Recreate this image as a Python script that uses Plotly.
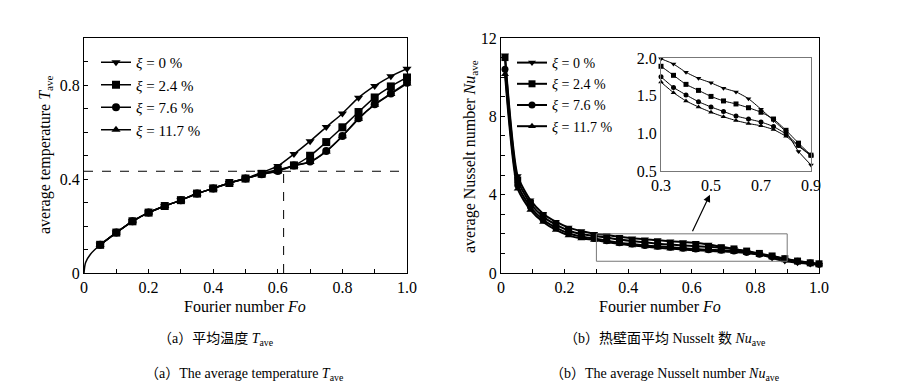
import plotly.graph_objects as go

# ---------------- data ----------------
series_labels = ["<i>ξ</i> = 0 %", "<i>ξ</i> = 2.4 %", "<i>ξ</i> = 7.6 %", "<i>ξ</i> = 11.7 %"]

# (a) average temperature
Fo_T_start = [0, 0.005, 0.02, 0.05]          # common initial rise (no markers)
T_start = [0, 0.045, 0.080, 0.120]
Fo_T = [0.05, 0.10, 0.15, 0.20, 0.25, 0.30, 0.35, 0.40, 0.45, 0.50,
        0.55, 0.60, 0.65, 0.70, 0.75, 0.80, 0.85, 0.90, 0.95, 1.00]
T_common = [0.120, 0.172, 0.220, 0.257, 0.285, 0.310, 0.338, 0.360, 0.383, 0.402]
T_xi0 = T_common + [0.428, 0.455, 0.506, 0.561, 0.621, 0.679, 0.746, 0.796, 0.837, 0.869]
T_xi24 = T_common + [0.422, 0.440, 0.458, 0.499, 0.557, 0.620, 0.685, 0.747, 0.794, 0.832]
T_xi76 = T_common + [0.420, 0.434, 0.457, 0.474, 0.519, 0.583, 0.658, 0.718, 0.764, 0.810]
T_xi117 = T_common + [0.420, 0.433, 0.456, 0.472, 0.517, 0.582, 0.656, 0.716, 0.762, 0.806]
T_cross = 0.433
Fo_cross = 0.618

# (b) average Nusselt number
Fo_Nu = [0.0125, 0.0525, 0.0925, 0.1325, 0.1725, 0.2125, 0.2525, 0.2925, 0.3325, 0.3725,
         0.4125, 0.4525, 0.4925, 0.5325, 0.5725, 0.6125, 0.6525, 0.6925, 0.7325, 0.7725,
         0.8125, 0.8525, 0.8925, 0.9325, 0.9725, 1.0]
Nu_xi0 = [11.12, 4.95, 3.72, 3.03, 2.62, 2.32, 2.14, 2.01, 1.94, 1.85, 1.78, 1.72, 1.68,
          1.62, 1.58, 1.54, 1.46, 1.35, 1.23, 1.09, 0.97, 0.77, 0.61, 0.52, 0.46, 0.42]
Nu_xi24 = [11.0, 4.75, 3.55, 2.88, 2.47, 2.17, 1.99, 1.90, 1.81, 1.71, 1.63, 1.57, 1.50,
           1.45, 1.41, 1.37, 1.34, 1.29, 1.23, 1.12, 1.00, 0.87, 0.73, 0.61, 0.52, 0.47]
Nu_xi76 = [10.4, 4.50, 3.38, 2.72, 2.32, 2.03, 1.86, 1.76, 1.65, 1.55, 1.48, 1.41, 1.36,
           1.31, 1.26, 1.22, 1.19, 1.16, 1.12, 1.05, 0.96, 0.84, 0.72, 0.60, 0.51, 0.45]
Nu_xi117 = [10.15, 4.30, 3.22, 2.60, 2.20, 1.92, 1.76, 1.69, 1.58, 1.48, 1.41, 1.35, 1.29,
            1.24, 1.20, 1.16, 1.13, 1.10, 1.07, 1.02, 0.94, 0.83, 0.71, 0.59, 0.50, 0.44]

# inset (zoom 0.3 - 0.9)
Fo_in = [0.30, 0.35, 0.40, 0.45, 0.50, 0.55, 0.60, 0.65, 0.70, 0.75, 0.80, 0.85, 0.90]
In_xi0 = [1.99, 1.92, 1.81, 1.73, 1.67, 1.60, 1.55, 1.46, 1.32, 1.17, 1.02, 0.76, 0.58]
In_xi24 = [1.89, 1.77, 1.65, 1.57, 1.49, 1.43, 1.39, 1.34, 1.28, 1.19, 1.04, 0.87, 0.71]
In_xi76 = [1.75, 1.61, 1.51, 1.42, 1.35, 1.29, 1.23, 1.19, 1.15, 1.09, 0.99, 0.84, 0.71]
In_xi117 = [1.68, 1.54, 1.43, 1.35, 1.28, 1.22, 1.17, 1.13, 1.10, 1.05, 0.96, 0.83, 0.70]

zoom_box = [0.3, 0.9, 0.6, 2.0]          # x0, x1, y0, y1
arrow_from = [0.6, 2.05]
arrow_to = [0.657, 4.0]

x_ticks_main = [0, 0.2, 0.4, 0.6, 0.8, 1.0]
x_ticklabels_main = ["0", "0.2", "0.4", "0.6", "0.8", "1.0"]
yT_ticks = [0, 0.4, 0.8]
yT_ticklabels = ["0", "0.4", "0.8"]
yNu_ticks = [0, 4, 8, 12]
yNu_ticklabels = ["0", "4", "8", "12"]
xin_ticks = [0.3, 0.5, 0.7, 0.9]
xin_ticklabels = ["0.3", "0.5", "0.7", "0.9"]
yin_ticks = [0.5, 1.0, 1.5, 2.0]
yin_ticklabels = ["0.5", "1.0", "1.5", "2.0"]

# ---------------- figure ----------------
W, H = 898, 389
SERIF = "Liberation Serif"
CJK = "Liberation Serif, Noto Sans CJK SC"
symbols = ["triangle-down", "square", "circle", "triangle-up"]

fig = go.Figure()

fig.add_trace(go.Scatter(
    x=Fo_T_start, y=T_start, mode="lines", showlegend=False,
    line=dict(color="black", width=1.5, shape="spline", smoothing=0.8),
    xaxis="x", yaxis="y", cliponaxis=False))

T_sets = [T_xi0, T_xi24, T_xi76, T_xi117]
for lab, ys, sym in zip(series_labels, T_sets, symbols):
    fig.add_trace(go.Scatter(
        x=Fo_T, y=ys, mode="lines+markers", name=lab,
        line=dict(color="black", width=1.5, shape="spline", smoothing=0.6),
        marker=dict(symbol=sym, size=8, color="black", line=dict(width=0)),
        xaxis="x", yaxis="y", legend="legend", cliponaxis=False))

Nu_sets = [Nu_xi0, Nu_xi24, Nu_xi76, Nu_xi117]
for lab, ys, sym in zip(series_labels, Nu_sets, symbols):
    fig.add_trace(go.Scatter(
        x=Fo_Nu, y=ys, mode="lines+markers", name=lab,
        line=dict(color="black", width=2, shape="spline", smoothing=0.6),
        marker=dict(symbol=sym, size=7, color="black", line=dict(width=0)),
        xaxis="x2", yaxis="y2", legend="legend2", cliponaxis=False))

In_sets = [In_xi0, In_xi24, In_xi76, In_xi117]
for lab, ys, sym in zip(series_labels, In_sets, symbols):
    fig.add_trace(go.Scatter(
        x=Fo_in, y=ys, mode="lines+markers", name=lab, showlegend=False,
        line=dict(color="black", width=1, shape="spline", smoothing=0.5),
        marker=dict(symbol=sym, size=5, color="black", line=dict(width=0)),
        xaxis="x3", yaxis="y3", cliponaxis=False))

def px_x(p):
    return p / W

def px_y(p):
    return 1 - p / H

tickfont = dict(family=SERIF, size=16, color="black")
axis_common = dict(showgrid=False, zeroline=False, showline=True, linecolor="black",
                   linewidth=1, mirror=True, ticks="inside", ticklen=4, tickcolor="black",
                   tickfont=tickfont, automargin=False)

fig.update_layout(
    width=W, height=H, margin=dict(l=0, r=0, t=0, b=0, autoexpand=False),
    paper_bgcolor="white", plot_bgcolor="white",
    font=dict(family=SERIF, color="black"),
    xaxis=dict(domain=[px_x(84), px_x(407)], range=[0, 1.0], anchor="y",
               tickvals=x_ticks_main, ticktext=x_ticklabels_main,
               minor=dict(dtick=0.1, ticks="inside", ticklen=4, tickcolor="black"),
               **axis_common),
    yaxis=dict(domain=[px_y(273), px_y(38)], range=[0, 1.0], anchor="x",
               tickvals=yT_ticks, ticktext=yT_ticklabels,
               minor=dict(dtick=0.1, ticks="inside", ticklen=4, tickcolor="black"),
               **axis_common),
    xaxis2=dict(domain=[px_x(501), px_x(819)], range=[0, 1.0], anchor="y2",
                tickvals=x_ticks_main, ticktext=x_ticklabels_main,
                minor=dict(dtick=0.1, ticks="inside", ticklen=4, tickcolor="black"),
                **axis_common),
    yaxis2=dict(domain=[px_y(273), px_y(38)], range=[0, 12], anchor="x2",
                tickvals=yNu_ticks, ticktext=yNu_ticklabels,
                minor=dict(dtick=1, ticks="inside", ticklen=4, tickcolor="black"),
                **axis_common),
    xaxis3=dict(domain=[px_x(661), px_x(811)], range=[0.3, 0.9], anchor="y3",
                tickvals=xin_ticks, ticktext=xin_ticklabels,
                showgrid=False, zeroline=False, showline=True, linecolor="#777777",
                linewidth=1, mirror=True, ticks="", automargin=False,
                tickfont=dict(family=SERIF, size=16, color="black")),
    yaxis3=dict(domain=[px_y(171), px_y(58)], range=[0.5, 2.0], anchor="x3",
                tickvals=yin_ticks, ticktext=yin_ticklabels,
                showgrid=False, zeroline=False, showline=True, linecolor="#777777",
                linewidth=1, mirror=True, ticks="", automargin=False,
                tickfont=dict(family=SERIF, size=16, color="black")),
    legend=dict(x=px_x(96), y=px_y(46), xanchor="left", yanchor="top",
                bgcolor="rgba(0,0,0,0)", font=dict(family=SERIF, size=15, color="black"),
                tracegroupgap=0, itemwidth=30),
    legend2=dict(x=px_x(512), y=px_y(47), xanchor="left", yanchor="top",
                 bgcolor="rgba(0,0,0,0)", font=dict(family=SERIF, size=14, color="black"),
                 tracegroupgap=0, itemwidth=30),
)

# dashed guide lines in (a)
fig.add_shape(type="line", xref="x", yref="y", x0=0, x1=1.0, y0=T_cross, y1=T_cross,
              line=dict(color="black", width=1, dash="dash"))
fig.add_shape(type="line", xref="x", yref="y", x0=Fo_cross, x1=Fo_cross, y0=0, y1=T_cross,
              line=dict(color="black", width=1, dash="dash"))

# zoom box in (b)
fig.add_shape(type="rect", xref="x2", yref="y2", x0=zoom_box[0], x1=zoom_box[1],
              y0=zoom_box[2], y1=zoom_box[3], line=dict(color="#777777", width=1))
fig.add_annotation(x=arrow_to[0], y=arrow_to[1], ax=arrow_from[0], ay=arrow_from[1],
                   xref="x2", yref="y2", axref="x2", ayref="y2", text="", showarrow=True,
                   arrowhead=2, arrowsize=1.2, arrowwidth=1.2, arrowcolor="black")

titlefont = dict(family=SERIF, size=16, color="black")
ann = [
    dict(text="average temperature <i>T</i><sub>ave</sub>", x=px_x(45), y=px_y(155), textangle=-90),
    dict(text="average Nusselt number <i>Nu</i><sub>ave</sub>", x=px_x(470), y=px_y(157), textangle=-90),
    dict(text="Fourier number <i>Fo</i>", x=px_x(245.5), y=px_y(306)),
    dict(text="Fourier number <i>Fo</i>", x=px_x(660), y=px_y(306)),
]
for a in ann:
    fig.add_annotation(xref="paper", yref="paper", showarrow=False, xanchor="center",
                       yanchor="middle", font=titlefont, **a)

capfont = dict(family=CJK, size=14, color="black")
caps = [
    dict(text="（a）平均温度 <i>T</i><sub>ave</sub>", x=px_x(216), y=px_y(339)),
    dict(text="（a）The average temperature <i>T</i><sub>ave</sub>", x=px_x(245), y=px_y(374)),
    dict(text="（b）热壁面平均 Nusselt 数 <i>Nu</i><sub>ave</sub>", x=px_x(665), y=px_y(339)),
    dict(text="（b）The average Nusselt number <i>Nu</i><sub>ave</sub>", x=px_x(665), y=px_y(374)),
]
for c in caps:
    fig.add_annotation(xref="paper", yref="paper", showarrow=False, xanchor="center",
                       yanchor="middle", font=capfont, **c)

fig.write_html("out.html", config={"displayModeBar": False, "staticPlot": True},
               post_script="document.body.style.margin='0';document.body.style.overflow='hidden';")
